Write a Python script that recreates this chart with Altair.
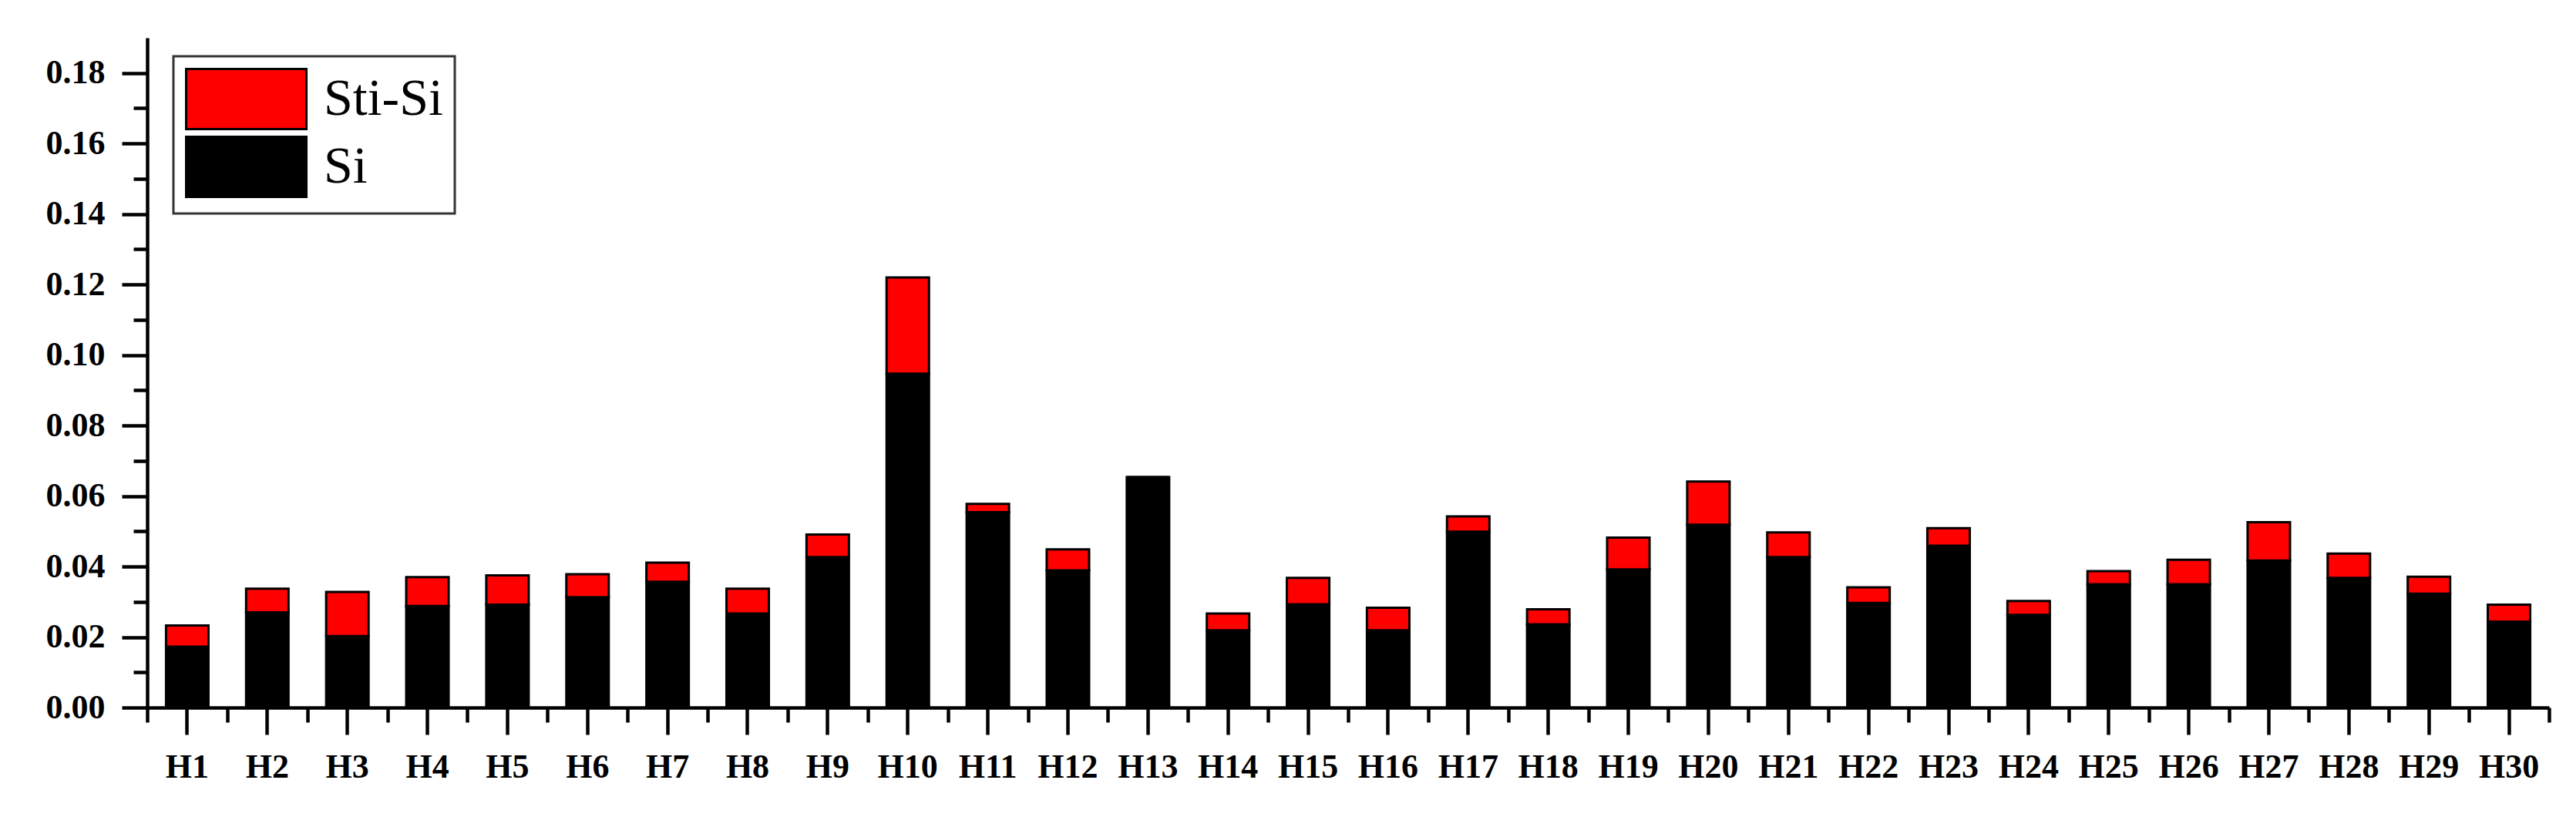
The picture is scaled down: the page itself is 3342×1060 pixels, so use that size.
import altair as alt
import pandas as pd

categories = [f"H{i}" for i in range(1, 31)]
si = [0.0173, 0.0270, 0.0203, 0.0288, 0.0292, 0.0313, 0.0357, 0.0267, 0.0427, 0.0947,
      0.0554, 0.0389, 0.0654, 0.0219, 0.0293, 0.0219, 0.0499, 0.0236, 0.0392, 0.0519,
      0.0427, 0.0297, 0.0459, 0.0263, 0.0350, 0.0350, 0.0417, 0.0368, 0.0323, 0.0244]
sti_si = [0.0060, 0.0067, 0.0125, 0.0082, 0.0083, 0.0065, 0.0054, 0.0070, 0.0064, 0.0273,
          0.0024, 0.0060, 0.0000, 0.0048, 0.0075, 0.0064, 0.0043, 0.0043, 0.0090, 0.0122,
          0.0070, 0.0044, 0.0050, 0.0039, 0.0037, 0.0069, 0.0109, 0.0069, 0.0048, 0.0048]
series_names = ["Sti-Si", "Si"]
series_colors = ["#ff0000", "#000000"]
y_major = [0.00, 0.02, 0.04, 0.06, 0.08, 0.10, 0.12, 0.14, 0.16, 0.18]
y_minor = [0.01, 0.03, 0.05, 0.07, 0.09, 0.11, 0.13, 0.15, 0.17]
x_minor = [i + 0.5 for i in range(0, 31)]

rows = []
for c, a, b in zip(categories, si, sti_si):
    rows.append({"cat": c, "series": "Si", "value": a, "ord": 0})
    rows.append({"cat": c, "series": "Sti-Si", "value": b, "ord": 1})
df = pd.DataFrame(rows)
df_minor = pd.DataFrame({"xm": x_minor, "ym": [0.0] * len(x_minor)})

FONT = "Liberation Serif"

bars = alt.Chart(df).mark_bar(
    width=alt.RelativeBandSize(0.53), stroke="black", strokeWidth=3
).encode(
    x=alt.X("cat:N", sort=categories, title=None,
            scale=alt.Scale(paddingInner=0, paddingOuter=0),
            axis=alt.Axis(orient="bottom", labelAngle=0, labelFont=FONT, labelFontWeight="bold",
                          labelFontSize=44, labelColor="black", tickSize=35, tickWidth=4.5,
                          tickColor="black", domainColor="black", domainWidth=4.5,
                          labelPadding=20, grid=False, bandPosition=0.5)),
    y=alt.Y("value:Q", stack="zero", title=None,
            scale=alt.Scale(domain=[0, 0.19], nice=False, zero=True),
            axis=alt.Axis(orient="left", values=y_major, format=".2f", labelFont=FONT,
                          labelFontWeight="bold", labelFontSize=44, labelColor="black",
                          tickSize=33, tickWidth=4.5, tickColor="black", domainColor="black",
                          domainWidth=4.5, labelPadding=22, grid=False)),
    color=alt.Color("series:N", scale=alt.Scale(domain=series_names, range=series_colors),
                    legend=alt.Legend(title=None, orient="none", legendX=34, legendY=24,
                                      symbolType="M-1,-1H3V1H-1Z", symbolSize=6084,
                                      symbolStrokeColor="black", symbolStrokeWidth=3,
                                      symbolOpacity=1,
                                      labelFont=FONT, labelFontSize=68, labelColor="black",
                                      labelOffset=99, rowPadding=-3, padding=15,
                                      strokeColor="#333333", fillColor="white")),
    order=alt.Order("ord:Q", sort="ascending"),
)

minor = alt.Chart(df_minor).mark_point(opacity=0).encode(
    x=alt.X("xm:Q", title=None, scale=alt.Scale(domain=[0.5, 30.5], nice=False, zero=False),
            axis=alt.Axis(orient="bottom", values=x_minor, labels=False, domain=False,
                          tickSize=19, tickWidth=4.5, tickColor="black", grid=False)),
    y=alt.Y("ym:Q", title=None, scale=alt.Scale(domain=[0, 0.19], nice=False, zero=True),
            axis=alt.Axis(orient="left", values=y_minor, labels=False, domain=False,
                          tickSize=18, tickWidth=4.5, tickColor="black", grid=False)),
)

chart = alt.layer(bars, minor).resolve_scale(x="independent", y="independent").properties(
    width=3116, height=869,
    autosize=alt.AutoSizeParams(type="none"),
    padding={"left": 183, "top": 41, "right": 20, "bottom": 120},
    background="white",
).configure_view(strokeWidth=0).configure_legend(strokeWidth=3)

chart.save("out.html", embed_options={"renderer": "svg", "actions": False})
